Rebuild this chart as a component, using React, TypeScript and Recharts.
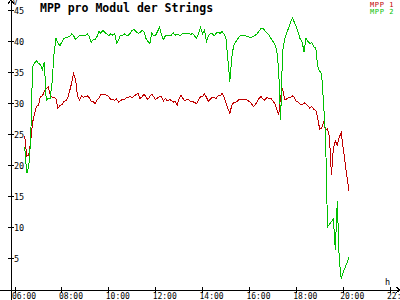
import { LineChart, Line, XAxis, YAxis, ReferenceLine } from 'recharts'

// samples every 5 minutes, starting 06:25
const START_MIN = 385
const STEP_MIN = 5

const mpp1 = [
  24.8, 21.6, 21.8, 23.8, 27.0, 28.5, 29.6, 29.8, 31.2, 31.3,
  32.0, 32.5, 32.8, 31.5, 31.1, 31.1, 30.8, 29.3, 29.8, 29.9,
  30.4, 30.5, 31.0, 32.1, 33.4, 34.9, 34.0, 31.3, 30.6, 31.3,
  31.1, 31.2, 31.3, 31.0, 30.4, 30.4, 30.1, 30.6, 31.0, 31.6,
  31.6, 31.5, 31.4, 31.2,
  30.7, 30.8, 30.6, 30.8, 30.3, 30.5, 30.8, 30.7, 31.0, 31.1,
  31.2, 31.0, 31.3, 31.5, 31.7, 30.9, 31.1, 31.6, 31.2, 30.7,
  31.2, 31.6, 31.2, 30.7, 31.0, 31.2, 31.2, 30.5, 30.9, 30.5,
  30.7, 30.6, 30.3, 30.4, 29.8, 30.9, 31.4, 30.9, 30.5, 30.7,
  30.7, 30.4, 30.4, 30.2, 30.1, 30.7, 31.2, 31.2, 31.6, 31.1,
  30.4, 30.8, 31.1, 31.0,
  30.9, 31.3, 31.3, 31.7, 31.1, 30.2, 29.3, 28.5, 29.8, 30.2,
  30.3, 30.5, 30.8, 30.8, 30.8, 30.7, 30.6, 30.4, 30.1, 29.6,
  29.9, 30.4, 30.9, 31.2, 30.8, 30.6, 31.1, 30.9, 30.9, 30.5,
  30.1, 29.1, 28.2, 31.2, 32.5, 30.8, 30.8, 31.0, 31.0, 31.3,
  31.1, 30.4, 30.3, 30.0, 29.9, 30.2, 30.0, 29.7, 29.3, 29.6,
  29.1,
  29.0, 27.7, 25.9, 26.1, 27.0, 25.9, 26.0, 24.7, 18.5, 22.9,
  24.0, 23.4, 24.6, 25.4, 23.0, 20.5, 18.2, 16.0
]

const mpp2 = [
  23.0, 18.8, 19.8, 24.0, 36.0, 36.6, 37.0, 36.5, 36.4, 35.6,
  36.8, 30.5, 30.9, 30.9, 33.6, 38.2, 40.6, 39.8, 39.4, 40.0,
  40.6, 40.7, 40.8, 40.9, 41.3, 41.0, 40.4, 40.7, 41.0, 41.0,
  41.0, 41.0, 41.3, 40.9, 39.9, 40.4, 40.3, 40.9, 41.7, 41.4,
  41.9, 41.5, 41.3, 41.0,
  41.3, 41.1, 41.4, 39.8, 40.3, 41.1, 41.0, 41.3, 41.1, 41.1,
  41.4, 41.9, 42.0, 41.7, 41.4, 41.5, 41.9, 41.7, 40.6, 40.1,
  39.7, 41.4, 41.0, 41.1, 41.7, 42.4, 41.1, 40.4, 41.0, 41.1,
  41.0, 41.1, 41.5, 41.1, 41.3, 41.1, 41.1, 41.4, 41.4, 41.3,
  41.4, 41.2, 41.4, 40.9, 40.6, 41.4, 42.4, 41.3, 41.9, 40.1,
  41.0, 41.3, 41.3, 41.0,
  41.4, 41.6, 41.4, 41.7, 41.3, 40.6, 37.1, 33.6, 37.6, 39.5,
  40.0, 40.5, 40.9, 41.1, 41.0, 41.0, 40.9, 40.8, 40.7, 40.9,
  41.1, 41.3, 41.8, 42.2, 42.2, 41.8, 41.5, 41.1, 40.6, 40.1,
  39.7, 38.7, 35.5, 27.4, 38.5, 40.4, 41.3, 42.2, 43.1, 43.9,
  43.2, 42.5, 41.5, 40.5, 40.0, 38.4, 40.6, 40.1, 39.8, 39.9,
  39.2,
  39.0, 36.0, 35.3, 34.8, 30.0, 25.0, 10.2, 10.6, 11.0, 11.5,
  6.5, 14.3, 5.0, 1.8, 2.8, 3.6, 4.4, 5.3
]

const xTicks = [360, 480, 600, 720, 840, 960, 1080, 1200, 1320]
const yTicks = [5, 10, 15, 20, 25, 30, 35, 40, 45]

const RED = '#c00000'
const GREEN = '#00c000'
const FONT = '"DejaVu Sans Mono", monospace'

// axis ranges chosen so the axes run to the picture edges
const X_DOMAIN: [number, number] = [349.76, 1345.6]
const X_EDGE = 321.6
const Y_DOMAIN: [number, number] = [0, 46.77]
const Y_EDGE = -1.61

const data = mpp1.map((v, i) => ({ t: START_MIN + i * STEP_MIN, mpp1: v, mpp2: mpp2[i] }))

const fmtTime = (m: number) => `${String(Math.floor(m / 60)).padStart(2, '0')}:00`

function XTick(props: any) {
  const { x, y, payload } = props
  return (
    <g>
      <line x1={x} y1={y - 3} x2={x} y2={y + 3} stroke="#000" shapeRendering="crispEdges" />
      <text x={x - 3} y={y + 9} fontSize={8} fontFamily={FONT} fill="#000">
        {fmtTime(payload.value)}
      </text>
    </g>
  )
}

function YTick(props: any) {
  const { x, y, payload } = props
  return (
    <g>
      <line x1={x - 3} y1={y} x2={x + 3} y2={y} stroke="#000" shapeRendering="crispEdges" />
      <text x={x + 3} y={y + 3.5} fontSize={8.5} fontFamily={FONT} fill="#000">
        {payload.value}
      </text>
    </g>
  )
}

function AxisArrow(props: any) {
  const { x1, y1, x2, y2 } = props
  const len = Math.hypot(x2 - x1, y2 - y1) || 1
  const ux = (x2 - x1) / len
  const uy = (y2 - y1) / len
  const bx = x2 - ux * 4
  const by = y2 - uy * 4
  const px = -uy * 3
  const py = ux * 3
  return (
    <g stroke="#000" fill="none" shapeRendering="crispEdges">
      <line x1={x1} y1={y1} x2={x2} y2={y2} />
      <polyline points={`${bx + px},${by + py} ${x2},${y2} ${bx - px},${by - py}`} />
    </g>
  )
}

export default function App() {
  if (typeof document !== 'undefined') document.body.style.margin = '0'
  return (
    <LineChart width={400} height={300} data={data} margin={{ top: 0, right: 0, bottom: 0, left: 0 }}>
      <XAxis
        type="number"
        dataKey="t"
        domain={X_DOMAIN}
        ticks={xTicks}
        interval={0}
        allowDataOverflow
        height={10}
        axisLine={false}
        tickLine={false}
        tickSize={0}
        tickMargin={0}
        tick={XTick}
      />
      <YAxis
        type="number"
        domain={Y_DOMAIN}
        ticks={yTicks}
        interval={0}
        allowDataOverflow
        width={11}
        axisLine={false}
        tickLine={false}
        tickSize={0}
        tickMargin={0}
        tick={YTick}
      />
      <ReferenceLine
        segment={[{ x: X_EDGE, y: 0 }, { x: X_DOMAIN[1], y: 0 }]}
        ifOverflow="visible"
        shape={AxisArrow}
      />
      <ReferenceLine
        segment={[{ x: X_DOMAIN[0], y: Y_EDGE }, { x: X_DOMAIN[0], y: Y_DOMAIN[1] }]}
        ifOverflow="visible"
        shape={AxisArrow}
      />
      <Line
        type="linear"
        dataKey="mpp1"
        stroke={RED}
        strokeWidth={1}
        dot={false}
        activeDot={false}
        shapeRendering="crispEdges"
        isAnimationActive={false}
      />
      <Line
        type="linear"
        dataKey="mpp2"
        stroke={GREEN}
        strokeWidth={1}
        dot={false}
        activeDot={false}
        shapeRendering="crispEdges"
        isAnimationActive={false}
      />
      <text x={40} y={12} fontFamily={FONT} fontWeight="bold" fontSize={11.5} fill="#000">
        MPP pro Modul der Strings
      </text>
      <text x={370} y={7} fontFamily={FONT} fontSize={7} letterSpacing={0.6} fill={RED}>MPP 1</text>
      <text x={370} y={14} fontFamily={FONT} fontSize={7} letterSpacing={0.6} fill={GREEN}>MPP 2</text>
      <text x={13} y={5} fontFamily={FONT} fontSize={7} fill="#000">V</text>
      <text x={385} y={285} fontFamily={FONT} fontSize={8.5} fill="#000">h</text>
    </LineChart>
  )
}
